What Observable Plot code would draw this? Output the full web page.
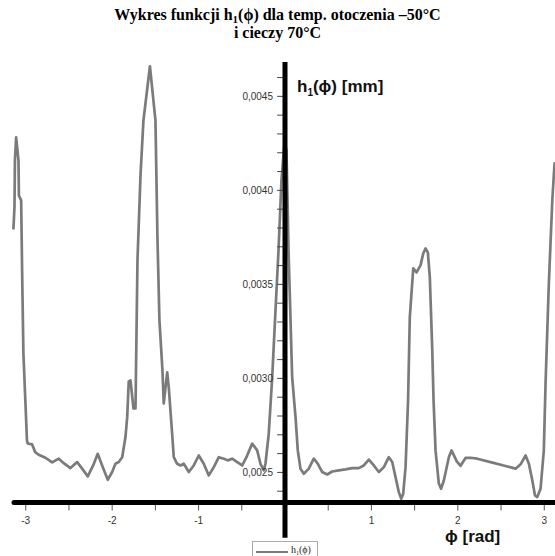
<!DOCTYPE html>
<html>
<head>
<meta charset="utf-8">
<script src="https://cdn.jsdelivr.net/npm/d3@7"></script>
<script src="https://cdn.jsdelivr.net/npm/@observablehq/plot@0.6"></script>
<style>
  html, body { margin: 0; padding: 0; background: #fff; }
  #wrap { position: relative; width: 555px; height: 556px; overflow: hidden; }
  #title { position: absolute; left: 0; top: 6px; width: 555px; text-align: center;
           font: bold 16px/18px "Liberation Serif", "Times New Roman", serif; color: #000; }
  #title sub { font-size: 11px; line-height: 0; vertical-align: -3px; }
  #chart { position: absolute; left: 0; top: 44px; }
  .axlab { position: absolute; font: bold 17px "Liberation Sans", Arial, sans-serif; color: #111; white-space: nowrap; }
  .axlab sub { font-size: 10px; line-height: 0; vertical-align: -4px; }
  #legend { position: absolute; left: 252px; top: 541px; width: 64px; height: 18px; border: 1px solid #aaa;
            background: #fff; font: 10px "Liberation Serif", serif; color: #222; }
  #legend .sw { position: absolute; left: 3px; top: 9px; width: 32px; height: 0; border-top: 2.5px solid #7b7b7b; }
  #legend .tx { position: absolute; left: 38px; top: 2px; white-space: nowrap; }
  #legend .tx sub { font-size: 6px; line-height: 0; vertical-align: -2px; }
</style>
</head>
<body>
<div id="wrap">
  <div id="title">Wykres funkcji h<sub>1</sub>(ϕ) dla temp. otoczenia –50°C<br>i cieczy 70°C</div>
  <div id="chart"></div>
  <div class="axlab" style="left:297px; top:77px;">h<sub>1</sub>(ϕ) [mm]</div>
  <div class="axlab" style="left:445px; top:527px;">ϕ [rad]</div>
  <div id="legend"><div class="sw"></div><div class="tx">h<sub>1</sub>(ϕ)</div></div>
</div>
<script>
// ---- data ----
const phi = [-3.142, -3.130, -3.125, -3.111, -3.084, -3.079, -3.053, -3.042, -3.027, -3.003,
  -2.986, -2.977, -2.926, -2.891, -2.850, -2.772, -2.694, -2.618, -2.560, -2.483,
  -2.405, -2.347, -2.282, -2.220, -2.167, -2.116, -2.051, -2.000, -1.962, -1.924,
  -1.884, -1.846, -1.826, -1.808, -1.788, -1.753, -1.730, -1.707, -1.672, -1.638,
  -1.563, -1.499, -1.476, -1.453, -1.418, -1.403, -1.363, -1.345, -1.306, -1.287,
  -1.248, -1.209, -1.171, -1.113, -1.056, -0.998, -0.940, -0.882, -0.824, -0.766,
  -0.708, -0.662, -0.611, -0.553, -0.495, -0.446, -0.380, -0.322, -0.284, -0.245,
  -0.226, -0.188, -0.148, -0.110, -0.075, -0.041, -0.006, 0.017, 0.041, 0.083,
  0.122, 0.148, 0.179, 0.218, 0.275, 0.333, 0.380, 0.431, 0.488, 0.546,
  0.623, 0.700, 0.778, 0.854, 0.912, 0.970, 1.028, 1.086, 1.144, 1.201,
  1.241, 1.279, 1.317, 1.345, 1.368, 1.395, 1.424, 1.444, 1.484, 1.522,
  1.568, 1.600, 1.626, 1.653, 1.676, 1.704, 1.719, 1.742, 1.780, 1.806,
  1.838, 1.896, 1.927, 1.988, 2.031, 2.089, 2.147, 2.225, 2.378, 2.529,
  2.668, 2.726, 2.784, 2.822, 2.862, 2.892, 2.919, 2.957, 2.995, 3.015,
  3.053, 3.093, 3.119];
const h1 = [0.003798, 0.003915, 0.004160, 0.004282, 0.004160, 0.003973, 0.003947, 0.003574, 0.003133, 0.002867,
  0.002670, 0.002654, 0.002649, 0.002608, 0.002594, 0.002578, 0.002553, 0.002573, 0.002549, 0.002523,
  0.002555, 0.002520, 0.002479, 0.002537, 0.002599, 0.002537, 0.002461, 0.002502, 0.002546, 0.002555,
  0.002581, 0.002688, 0.002794, 0.002984, 0.002989, 0.002840, 0.002840, 0.003628, 0.004080, 0.004372,
  0.004660, 0.004372, 0.003750, 0.003309, 0.003043, 0.002867, 0.003032, 0.002952, 0.002707, 0.002581,
  0.002546, 0.002537, 0.002546, 0.002502, 0.002537, 0.002590, 0.002546, 0.002484, 0.002528, 0.002581,
  0.002573, 0.002564, 0.002573, 0.002555, 0.002537, 0.002581, 0.002653, 0.002617, 0.002546, 0.002511,
  0.002546, 0.002706, 0.003005, 0.003362, 0.003681, 0.004053, 0.004255, 0.004213, 0.003681, 0.003005,
  0.002793, 0.002617, 0.002520, 0.002493, 0.002520, 0.002573, 0.002546, 0.002502, 0.002489, 0.002505,
  0.002511, 0.002516, 0.002523, 0.002523, 0.002537, 0.002568, 0.002537, 0.002502, 0.002528, 0.002581,
  0.002555, 0.002475, 0.002395, 0.002360, 0.002387, 0.002528, 0.002883, 0.003324, 0.003585, 0.003564,
  0.003601, 0.003665, 0.003691, 0.003670, 0.003537, 0.003149, 0.002883, 0.002617, 0.002441, 0.002413,
  0.002457, 0.002581, 0.002617, 0.002559, 0.002535, 0.002577, 0.002578, 0.002573, 0.002555, 0.002537,
  0.002520, 0.002543, 0.002590, 0.002546, 0.002457, 0.002378, 0.002369, 0.002413, 0.002617, 0.002973,
  0.003505, 0.003947, 0.004144];

const xDomain = [-Math.PI, Math.PI];
const yDomain = [0.00234, 0.00468];
const yAxisBottom = 0.00215;
const yTickLabels = [0.0025, 0.0030, 0.0035, 0.0040, 0.0045];
const yMinorTicks = [0.0024, 0.0025, 0.0026, 0.0027, 0.0028, 0.0029, 0.0030, 0.0031, 0.0032, 0.0033,
  0.0034, 0.0035, 0.0036, 0.0037, 0.0038, 0.0039, 0.0040, 0.0041, 0.0042, 0.0043, 0.0044, 0.0045, 0.0046];
const xTicks = [-3, -2.5, -2, -1.5, -1, -0.5, 0.5, 1, 1.5, 2, 2.5, 3];
const xTickLabels = [-3, -2, -1, 1, 2, 3];

const data = phi.map((p, i) => ({phi: p, h: h1[i]}));

const plot = Plot.plot({
  width: 555,
  height: 494,
  marginTop: 0, marginBottom: 0, marginLeft: 0, marginRight: 0,
  style: {background: "transparent", overflow: "visible"},
  x: {domain: xDomain, range: [13, 556], axis: null},
  y: {domain: yDomain, range: [458, 18], axis: null},
  marks: [
    Plot.line(data, {x: "phi", y: "h", stroke: "#7b7b7b", strokeWidth: 2.7, strokeLinejoin: "round"}),
    // y ticks (left of the vertical axis)
    Plot.ruleY(yMinorTicks, {x1: -0.085, x2: 0, stroke: "#444", strokeWidth: 1}),
    Plot.text(yTickLabels, {x: 0, y: d => d, text: d => d.toFixed(4).replace(".", ","),
      textAnchor: "end", dx: -12, fontSize: 10, fill: "#333", fontFamily: "Liberation Sans, Arial, sans-serif"}),
    // x ticks
    Plot.ruleX(xTicks, {y1: yDomain[0], y2: 0.002295, stroke: "#555", strokeWidth: 1}),
    Plot.text(xTickLabels, {x: d => d, y: yDomain[0], text: d => String(d), dy: 18,
      fontSize: 10, fill: "#333", fontFamily: "Liberation Sans, Arial, sans-serif"}),
    // axes
    Plot.ruleY([yDomain[0]], {x1: -3.13, x2: Math.PI, stroke: "#000", strokeWidth: 5, strokeLinecap: "round"}),
    Plot.ruleX([0], {y1: yAxisBottom, y2: yDomain[1], stroke: "#000", strokeWidth: 5})
  ]
});
document.getElementById("chart").appendChild(plot);
</script>
</body>
</html>
